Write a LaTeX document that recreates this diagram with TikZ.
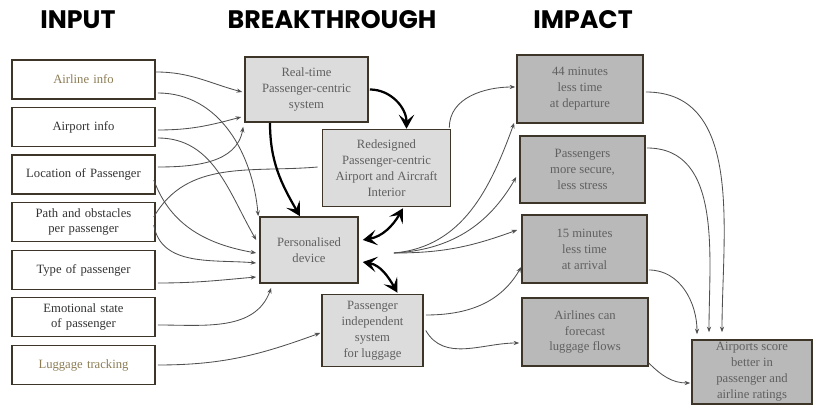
\documentclass[tikz,border=0pt]{standalone}
\usepackage{fontspec}
\setmainfont{Liberation Serif}
\newfontfamily\headfont{Poppins}
\usetikzlibrary{arrows.meta,calc}
\definecolor{edge}{HTML}{3D3528}
\definecolor{wire}{HTML}{505050}
\definecolor{olive}{HTML}{8C7D55}
\definecolor{inktext}{HTML}{333333}
\definecolor{boxtext}{HTML}{606060}
\definecolor{lightfill}{HTML}{DCDCDC}
\definecolor{darkfill}{HTML}{B9B9B9}
\begin{document}
\begin{tikzpicture}[x=0.025cm,y=0.025cm,
	title/.style={font=\headfont\bfseries\fontsize{18}{20}\selectfont},
	inbox/.style={draw=edge,line width=1.1pt,fill=white,minimum width=3.575cm,minimum height=0.975cm,
		text width=3.3cm,align=center,text=inktext,font=\fontsize{9}{11}\selectfont,inner sep=1pt},
	brbox/.style={draw=edge,line width=1.1pt,fill=lightfill,align=center,text=boxtext,
		font=\fontsize{9}{11.3}\selectfont,inner sep=1pt},
	imbox/.style={brbox,fill=darkfill},
	thin/.style={wire,line width=0.6pt,-{Stealth[length=4pt,width=3pt]}},
	thick/.style={black,line width=1.6pt,-{Stealth[length=10pt,width=11pt,inset=4.5pt]}},
	both/.style={thick,{Stealth[length=10pt,width=11pt,inset=4.5pt]}-{Stealth[length=10pt,width=11pt,inset=4.5pt]}}]
	\useasboundingbox (0,0) rectangle (819,405);
	% headings
	\node[title] (hin) at (78,385) {INPUT};
	\node[title] (hbr) at (332,385) {BREAKTHROUGH};
	\node[title] (him) at (583,385) {IMPACT};
	% input column
	\node[inbox,text=olive] (airline) at (83.5,325.5) {Airline info};
	\node[inbox] (airport) at (83.5,278) {Airport info};
	\node[inbox] (location) at (83.5,230.5) {Location of Passenger};
	\node[inbox] (path) at (83.5,183) {Path and obstacles\\per passenger};
	\node[inbox] (type) at (83.5,135) {Type of passenger};
	\node[inbox] (emotion) at (83.5,88) {Emotional state\\of passenger};
	\node[inbox,text=olive] (luggage) at (83.5,40) {Luggage tracking};
	% breakthrough column
	\node[brbox,minimum width=3.075cm,minimum height=1.625cm] (rt) at (306.5,315.5) {Real-time\\Passenger-centric\\system};
	\node[brbox,minimum width=3.2cm,minimum height=1.925cm] (redesign) at (386.5,237) {Redesigned\\Passenger-centric\\Airport and Aircraft\\Interior};
	\node[brbox,minimum width=2.45cm,minimum height=1.65cm] (device) at (309,155) {Personalised\\device};
	\node[brbox,minimum width=2.525cm,minimum height=1.8cm] (lugsys) at (372.5,74.5) {Passenger\\independent\\system\\for luggage};
	% impact column
	\node[imbox,minimum width=3.15cm,minimum height=1.7cm] (depart) at (580,316) {44 minutes\\less time\\at departure};
	\node[imbox,minimum width=3.125cm,minimum height=1.675cm] (secure) at (582.5,235.5) {Passengers\\more secure,\\less stress};
	\node[imbox,minimum width=3.125cm,minimum height=1.7cm] (arrive) at (584.5,156) {15 minutes\\less time\\at arrival};
	\node[imbox,minimum width=3.15cm,minimum height=1.7cm] (forecast) at (585,73) {Airlines can\\forecast\\luggage flows};
	\node[imbox,minimum width=3cm,minimum height=1.6cm] (score) at (752,33) {Airports score\\better in\\passenger and\\airline ratings};
	% inputs -> breakthrough
	\draw[thin] ($(airline.east)+(0,7.5)$) to[out=0,in=165] ($(rt.west)+(-2,-2.5)$);
	\draw[thin] ($(airline.east)+(2,-13.5)$) to[out=0,in=95] ($(device.north west)+(-1,0)$);
	\draw[thin] ($(airport.east)+(2,-3)$) to[out=0,in=195] ($(rt.west)+(-3,-27.5)$);
	\draw[thin] ($(airport.east)+(2,-11)$) to[out=0,in=120] ($(device.west)+(-3,10)$);
	\draw[thin] ($(location.east)+(2,7.5)$) to[out=0,in=260] ($(rt.south west)+(-1,-4)$);
	\draw[thin] ($(location.east)+(-2,-5.5)$) to[out=-70,in=170] ($(device.west)+(-3,-3)$);
	\draw[wire,line width=0.6pt] ($(path.east)+(-2,5)$) to[out=60,in=185] ($(redesign.west)+(-4,1)$);
	\draw[thin] ($(path.east)+(-2,-3)$) to[out=-80,in=175] ($(device.west)+(-3,-13)$);
	\draw[thin] ($(type.east)+(2,-13)$) to[out=0,in=185] ($(device.west)+(-3,-27)$);
	\draw[thin] ($(emotion.east)+(2,-8)$) to[out=0,in=250] ($(device.south west)+(12,-4)$);
	\draw[thin] ($(luggage.east)+(2,0)$) to[out=0,in=200] ($(lugsys.west)+(-1,-2.5)$);
	% breakthrough links
	\draw[thick] ($(rt.east)+(1,0)$) to[out=0,in=90] ($(redesign.north)+(20,0)$);
	\draw[thick] ($(rt.south)+(-36.5,0)$) to[out=-90,in=120] ($(device.north)+(-9,0)$);
	\draw[both] ($(device.east)+(4,10)$) to[out=10,in=240] ($(redesign.south)+(16.5,-1)$);
	\draw[both] ($(device.east)+(4,-12)$) to[out=-10,in=120] ($(lugsys.north)+(25,1)$);
	% breakthrough -> impact
	\draw[thin] ($(redesign.north east)+(-2,1)$) to[out=90,in=180] ($(depart.west)+(-1,2)$);
	\draw[thin] ($(device.east)+(35,-3)$) to[out=5,in=250] ($(depart.south west)+(-2,1)$);
	\draw[thin] ($(device.east)+(35,-3)$) to[out=3,in=240] ($(secure.west)+(-3,-7.5)$);
	\draw[thin] ($(device.east)+(35,-3)$) to[out=0,in=200] ($(arrive.west)+(-4,19)$);
	\draw[thin] ($(lugsys.east)+(2,15.5)$) to[out=0,in=240] ($(arrive.west)+(0,-18)$);
	\draw[thin] ($(lugsys.east)+(2,0)$) to[out=-60,in=180] ($(forecast.west)+(-2,-11)$);
	% impact -> final
	\draw[thin] ($(depart.east)+(2,-3)$) to[out=0,in=90] ($(score.north)+(-30,7)$);
	\draw[thin] ($(secure.east)+(1,21.5)$) to[out=0,in=90] ($(score.north)+(-43,7)$);
	\draw[thin] ($(arrive.east)+(1,-21)$) to[out=0,in=90] ($(score.north)+(-55,5)$);
	\draw[thin] ($(forecast.east)+(0,-31)$) to[out=-45,in=180] ($(score.west)+(-1,-11)$);
\end{tikzpicture}
\end{document}
